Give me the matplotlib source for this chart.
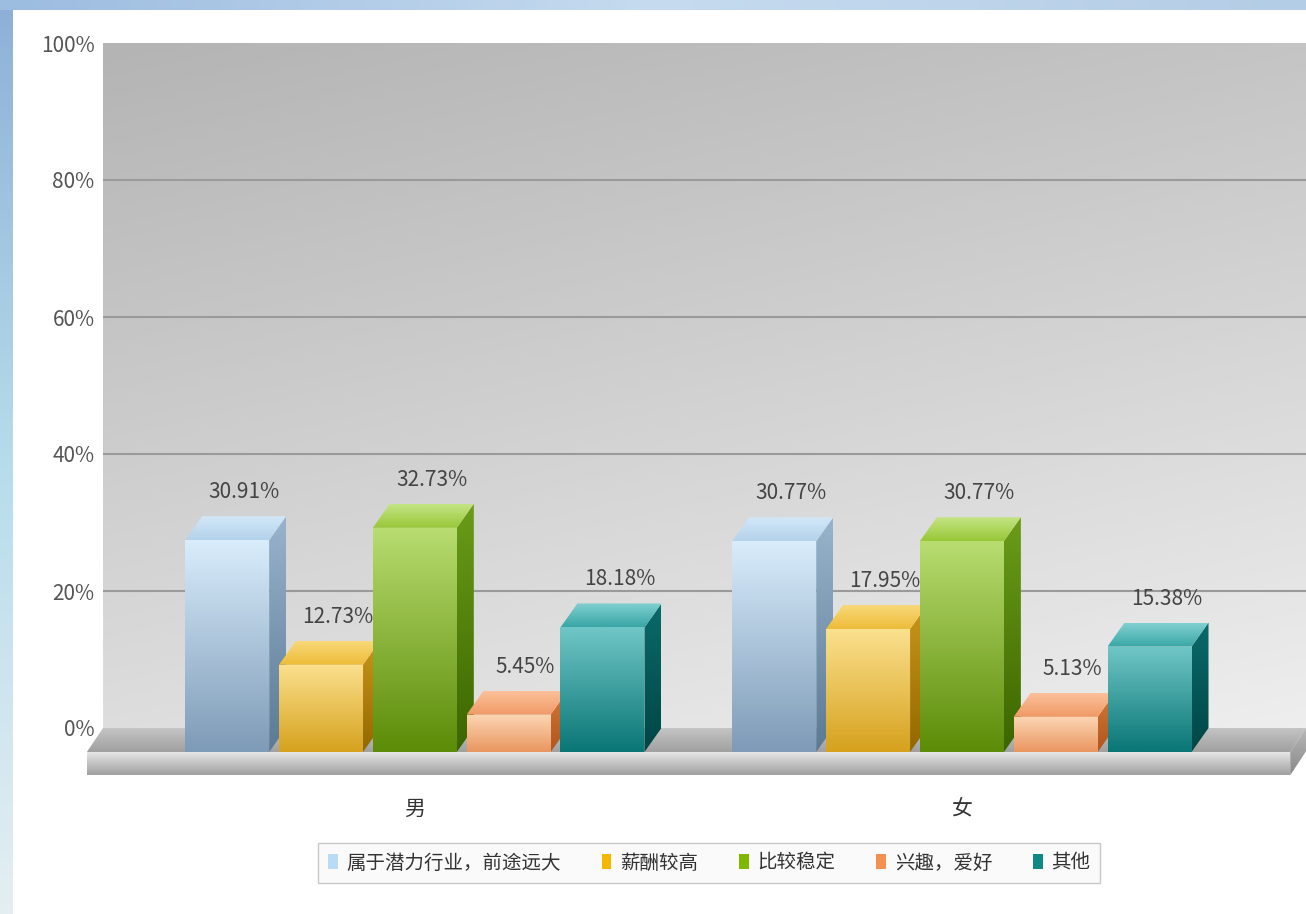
import numpy as np
import matplotlib.pyplot as plt
from matplotlib.patches import Polygon, Patch
from matplotlib.colors import LinearSegmentedColormap
from matplotlib.ticker import FuncFormatter

plt.rcParams['font.family'] = ['Noto Sans CJK SC', 'DejaVu Sans']

# 数据
categories = ['男', '女']
series = ['属于潜力行业，前途远大', '薪酬较高', '比较稳定', '兴趣，爱好', '其他']
male = [30.91, 12.73, 32.73, 5.45, 18.18]
female = [30.77, 17.95, 30.77, 5.13, 15.38]
values = [male, female]
y_ticks = [0, 20, 40, 60, 80, 100]

# 每个系列: 正面上/下, 侧面上/下, 顶面前/后, 图例色
face_colors = [
    ('#d8ecfb', '#7e9bb7', '#98b4cc', '#5b7a96', '#b4d2ea', '#d2e8f8', '#b8dcf8'),
    ('#fbe08e', '#d6a21e', '#c9961a', '#946800', '#eebc3a', '#f8d878', '#f4b800'),
    ('#b8dc70', '#5c8c08', '#6a9c18', '#3c6600', '#98c838', '#c4e484', '#80b800'),
    ('#fcd6b4', '#ea9660', '#d47838', '#b0561c', '#f09a66', '#fcc09a', '#f49050'),
    ('#70c6c6', '#0a7676', '#0a6a6a', '#004646', '#3aa6a6', '#80d0d0', '#108888'),
]

# 3D 布局参数
PITCH = 0.1715
WIDTH = 0.1536
DX = 0.031
DY = 3.5
SLAB = 3.4
X_LEFT, X_RIGHT = -0.570, 1.629


def grad_face(ax, verts, c_top, c_bot, z):
    """画一个带竖直渐变的多边形面"""
    poly = Polygon(verts, closed=True, facecolor='none', edgecolor='none',
                   transform=ax.transData, clip_on=False, zorder=z)
    ax.add_patch(poly)
    xs = [v[0] for v in verts]
    ys = [v[1] for v in verts]
    cmap = LinearSegmentedColormap.from_list('g', [c_bot, c_top])
    grad = np.linspace(0, 1, 64).reshape(-1, 1)
    im = ax.imshow(grad, extent=(min(xs), max(xs), min(ys), max(ys)), origin='lower',
                   cmap=cmap, aspect='auto', zorder=z, interpolation='bilinear')
    im.set_clip_box(ax.figure.bbox)
    im.set_clip_path(poly)
    return im


fig = plt.figure(figsize=(13.06, 9.14), dpi=100)
fig.patch.set_facecolor('white')

# 外框装饰
left_strip = fig.add_axes([0, 0, 13 / 1306, 1])
left_strip.imshow(np.linspace(0, 1, 100).reshape(-1, 1), aspect='auto',
                  cmap=LinearSegmentedColormap.from_list('l', ['#8eb0d8', '#b6dcea', '#e4eef2']),
                  extent=(0, 1, 0, 1))
left_strip.axis('off')
top_strip = fig.add_axes([0, 1 - 10 / 914, 1, 10 / 914])
top_strip.imshow(np.linspace(0, 1, 100).reshape(1, -1), aspect='auto',
                 cmap=LinearSegmentedColormap.from_list('t', ['#9cbce0', '#c6dbef', '#b4cde6']),
                 extent=(0, 1, 0, 1))
top_strip.axis('off')

rect = [103 / 1306, 186 / 914, 1203 / 1306, 685 / 914]

# 背景墙渐变
bg = fig.add_axes(rect, zorder=0)
gx, gy = np.meshgrid(np.linspace(0, 1, 200), np.linspace(0, 1, 200))
wall = 0.75 * gy + 0.3 * (1 - gx)
bg.imshow(wall, aspect='auto', origin='lower', extent=(0, 1, 0, 1),
          cmap=LinearSegmentedColormap.from_list('w', ['#b4b4b4', '#eeeeee']).reversed())
bg.axis('off')

ax = fig.add_axes(rect, zorder=1)
ax.set_facecolor('none')
for s in ax.spines.values():
    s.set_visible(False)

# 网格线
ax.hlines(y_ticks[1:-1], X_LEFT, X_RIGHT, colors='#9a9a9a', linewidth=1.5, zorder=1)

# 地板
XL_F, XR_F = X_LEFT - DX * 0.95, X_RIGHT - DX * 0.93
grad_face(ax, [(XL_F, -DY), (XR_F, -DY), (X_RIGHT, 0), (X_LEFT, 0)], '#c4c4c4', '#a0a0a0', 1.5)
grad_face(ax, [(XL_F, -DY), (XR_F, -DY), (XR_F, -DY - SLAB), (XL_F, -DY - SLAB)],
          '#e8e8e8', '#a0a0a0', 1.5)
grad_face(ax, [(XR_F, -DY), (X_RIGHT, 0), (X_RIGHT, -SLAB), (XR_F, -DY - SLAB)],
          '#b8b8b8', '#8a8a8a', 1.5)

# 柱子
for g, vals in enumerate(values):
    for i, v in enumerate(vals):
        ft, fb, st, sb, tf, tb, _ = face_colors[i]
        c = g + (i - 2) * PITCH
        x0, x1 = c - WIDTH / 2, c + WIDTH / 2
        z = 2 + g * 0.1 + i * 0.01
        grad_face(ax, [(x1, -DY), (x1 + DX, 0), (x1 + DX, v), (x1, v - DY)], st, sb, z)
        grad_face(ax, [(x0, v - DY), (x1, v - DY), (x1 + DX, v), (x0 + DX, v)], tb, tf, z)
        grad_face(ax, [(x0, -DY), (x1, -DY), (x1, v - DY), (x0, v - DY)], ft, fb, z)
        ax.text(c + DX, v + 3.5, f'{v:.2f}%', ha='center', va='center',
                fontsize=15, color='#444444', zorder=5)

ax.set_xlim(X_LEFT, X_RIGHT)
ax.set_ylim(0, 100)
ax.set_yticks(y_ticks)
ax.yaxis.set_major_formatter(FuncFormatter(lambda v, p: f'{v:.0f}%'))
ax.set_xticks([0, 1])
ax.set_xticklabels(categories)
ax.tick_params(axis='y', length=0, pad=6, labelsize=15, labelcolor='#555555')
ax.tick_params(axis='x', length=0, pad=50, labelsize=15, labelcolor='#333333')

# 图例
handles = [Patch(facecolor=fc[6], edgecolor='none') for fc in face_colors]
leg = fig.legend(handles, series, loc='center', bbox_to_anchor=(0.543, 0.0558), ncol=5,
                 fontsize=14, frameon=True, fancybox=False, edgecolor='#c8c8c8',
                 facecolor='#fafafa', framealpha=1, handlelength=0.5, handleheight=0.8,
                 handletextpad=0.45, columnspacing=2.1, borderpad=0.5)
for t in leg.get_texts():
    t.set_color('#333333')

fig.savefig('out.png', dpi=100)
